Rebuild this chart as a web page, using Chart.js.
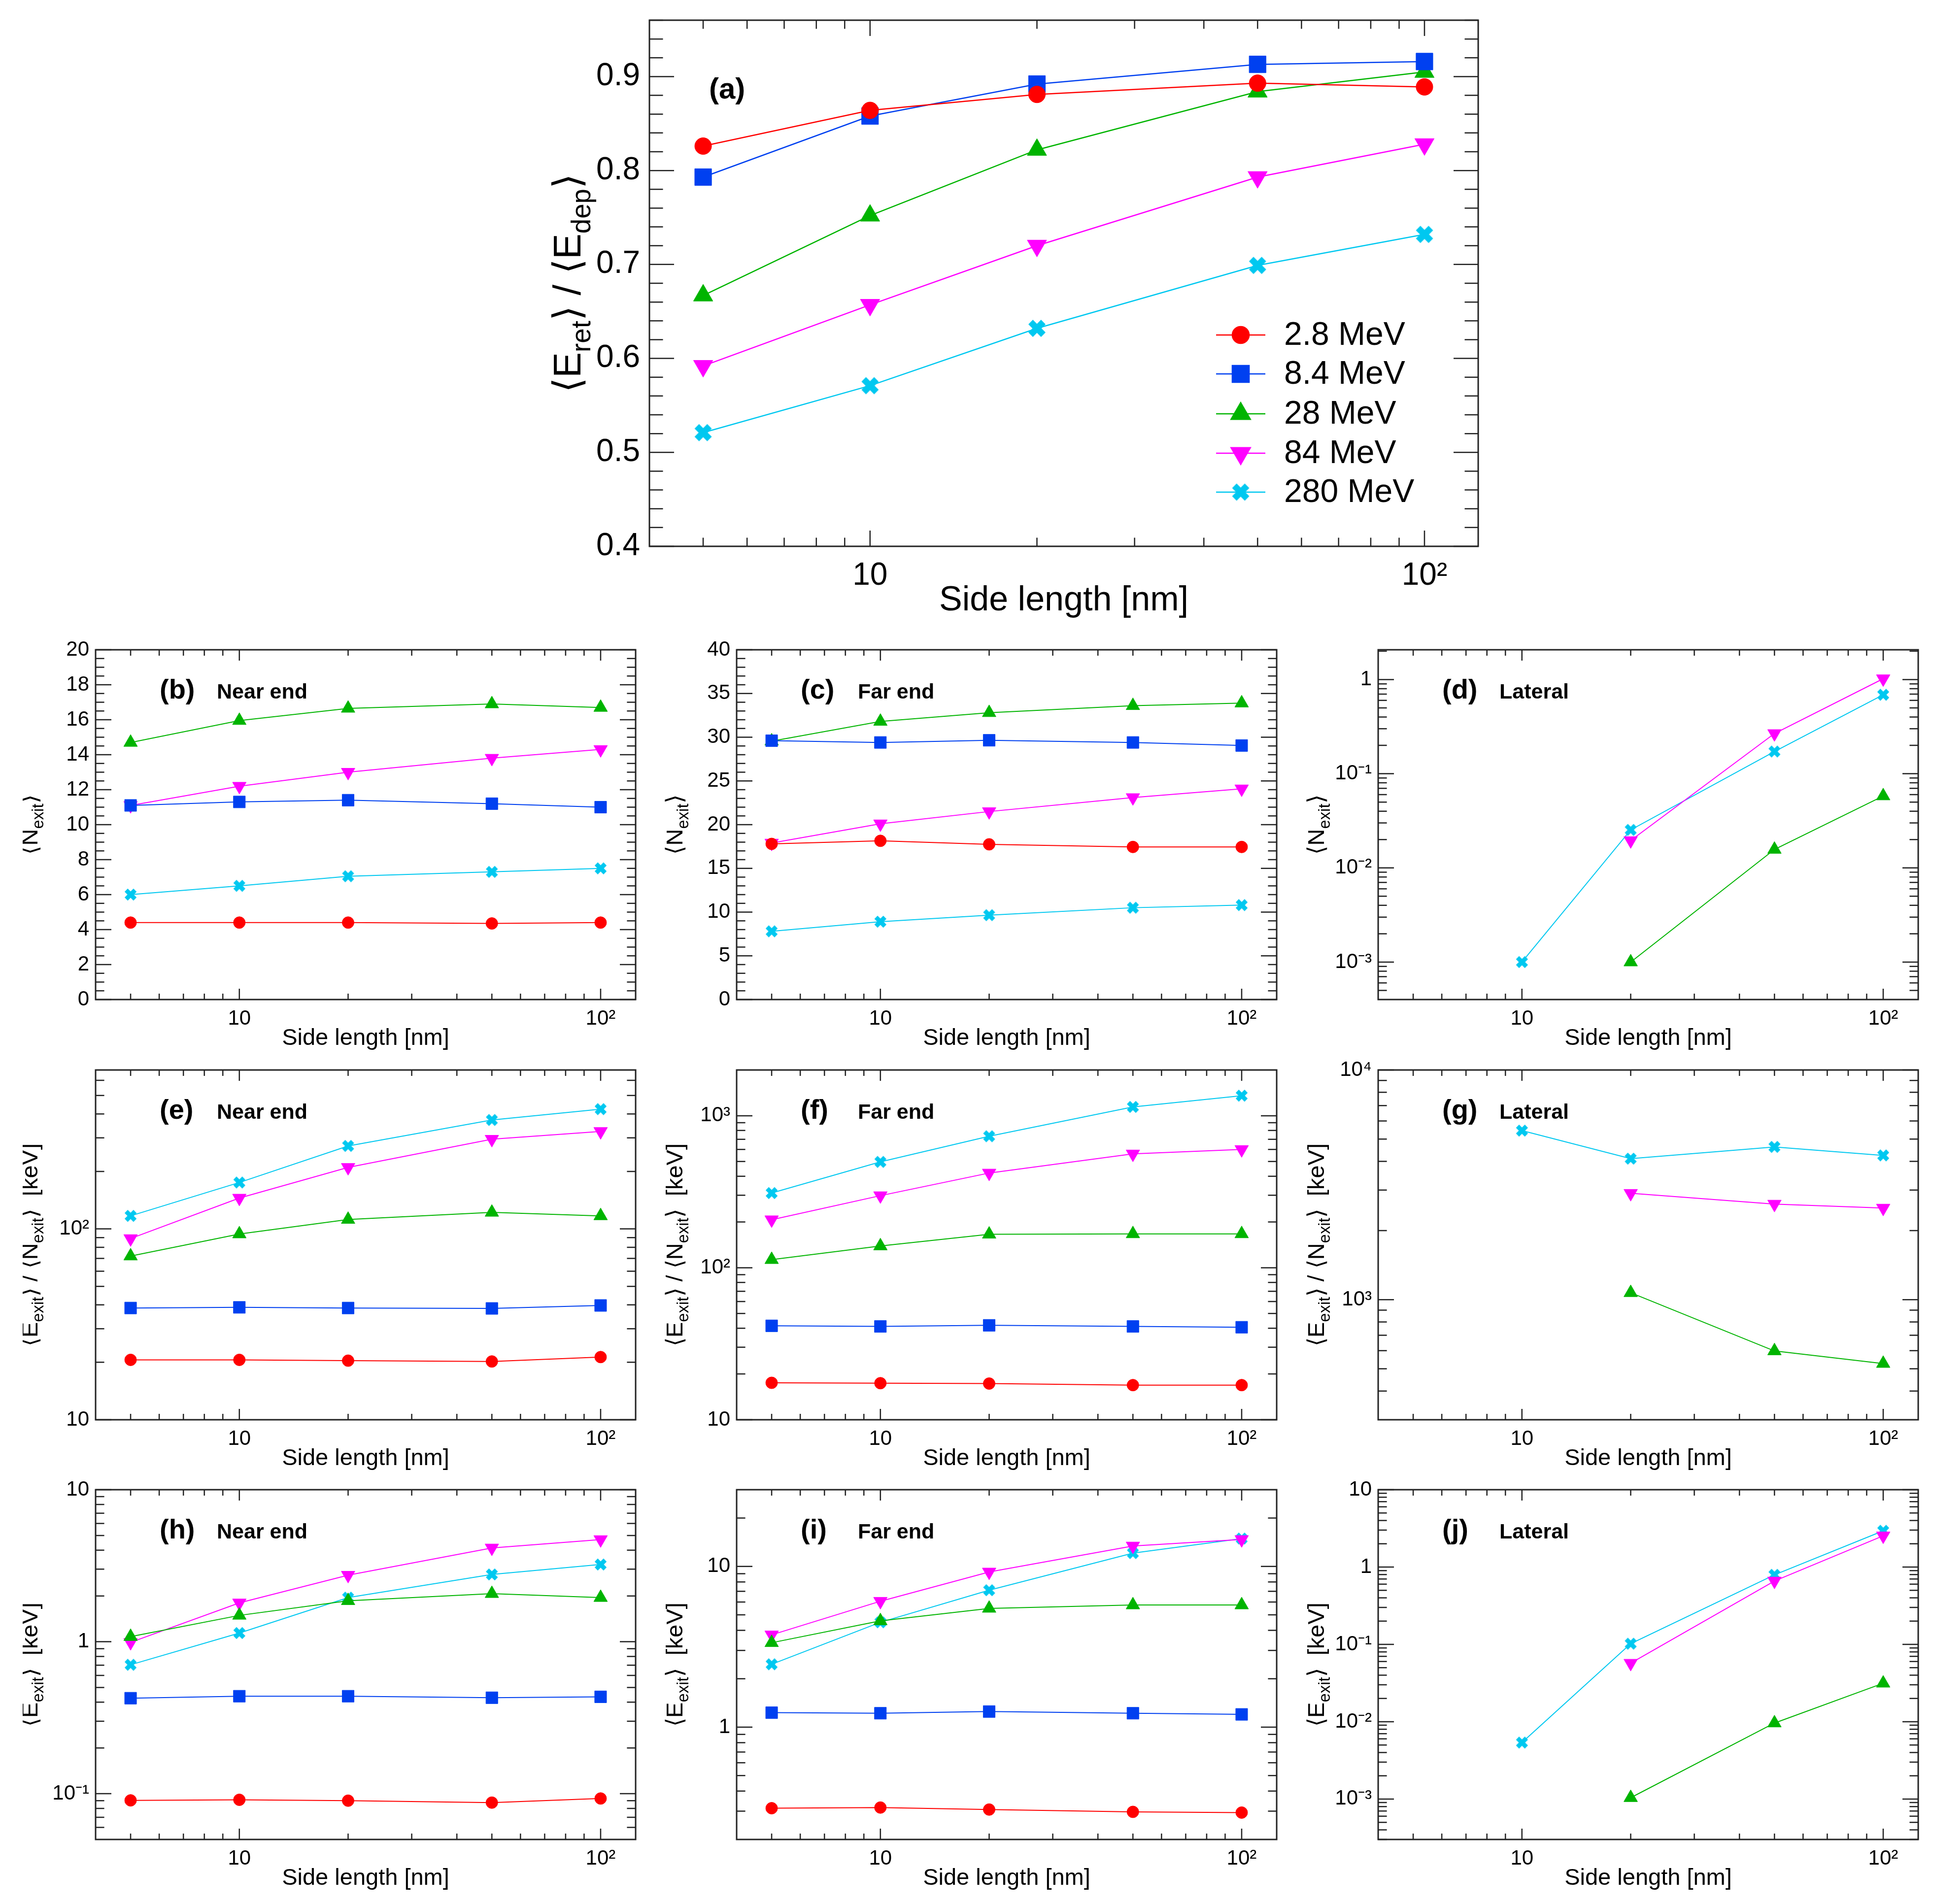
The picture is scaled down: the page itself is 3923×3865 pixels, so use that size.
<!DOCTYPE html>
<html lang="en">
<head>
<meta charset="UTF-8" />
<title>Exit quantities vs side length</title>
<style>
  html, body { margin: 0; padding: 0; background: #fff; }
  #page { position: relative; width: 3923px; height: 3865px; background: #fff; overflow: hidden; }
  #page canvas { position: absolute; }
</style>
<script src="https://cdn.jsdelivr.net/npm/chart.js"></script>
</head>
<body>
<div id="page"></div>
<script>
// side length of the cube (nm) and the beam energies
const sideLength = [5, 10, 20, 50, 100];
const energies = ['2.8 MeV', '8.4 MeV', '28 MeV', '84 MeV', '280 MeV'];

// (a) <E_ret>/<E_dep>, one row per energy
const retFraction = [
  [0.826, 0.864, 0.881, 0.893, 0.889],
  [0.793, 0.858, 0.892, 0.913, 0.916],
  [0.667, 0.752, 0.822, 0.884, 0.905],
  [0.592, 0.657, 0.720, 0.793, 0.828],
  [0.521, 0.571, 0.632, 0.699, 0.732]
];
// (b)-(d) <N_exit>
const nExitNear = [
  [4.4, 4.4, 4.4, 4.35, 4.4],
  [11.1, 11.3, 11.4, 11.2, 11.0],
  [14.7, 15.95, 16.65, 16.9, 16.7],
  [11.1, 12.2, 13.0, 13.8, 14.3],
  [6.0, 6.5, 7.05, 7.3, 7.5]
];
const nExitFar = [
  [17.8, 18.15, 17.75, 17.45, 17.45],
  [29.6, 29.4, 29.65, 29.4, 29.05],
  [29.55, 31.8, 32.8, 33.6, 33.9],
  [17.9, 20.1, 21.5, 23.1, 24.1],
  [7.8, 8.9, 9.65, 10.5, 10.8]
];
const nExitLat = [
  [null, null, null, null, null],
  [null, null, null, null, null],
  [null, null, 0.001, 0.0157, 0.058],
  [null, null, 0.0195, 0.267, 1.02],
  [null, 0.001, 0.0253, 0.172, 0.689]
];
// (e)-(g) <E_exit>/<N_exit> [keV]
const ePerNNear = [
  [20.6, 20.6, 20.4, 20.2, 21.3],
  [38.5, 38.8, 38.5, 38.3, 39.7],
  [72, 94, 112, 122, 117],
  [89, 145, 210, 295, 324],
  [117, 175, 272, 372, 424]
];
const ePerNFar = [
  [17.5, 17.4, 17.3, 16.9, 16.9],
  [41.5, 41.1, 41.8, 41.1, 40.6],
  [113, 139, 166, 167, 167],
  [207, 298, 420, 561, 600],
  [310, 497, 733, 1143, 1355]
];
const ePerNLat = [
  [null, null, null, null, null],
  [null, null, null, null, null],
  [null, null, 1072, 598, 527],
  [null, null, 2904, 2607, 2505],
  [null, 5445, 4110, 4624, 4247]
];
// (h)-(j) <E_exit> [keV]
const eExitNear = [
  [0.0904, 0.0912, 0.090, 0.0874, 0.093],
  [0.425, 0.438, 0.438, 0.428, 0.434],
  [1.08, 1.49, 1.86, 2.07, 1.95],
  [0.99, 1.80, 2.74, 4.14, 4.70],
  [0.705, 1.14, 1.95, 2.77, 3.22]
];
const eExitFar = [
  [0.313, 0.316, 0.307, 0.297, 0.294],
  [1.23, 1.22, 1.25, 1.22, 1.20],
  [3.35, 4.58, 5.48, 5.75, 5.75],
  [3.75, 6.07, 9.23, 13.4, 14.7],
  [2.46, 4.49, 7.11, 12.1, 14.9]
];
const eExitLat = [
  [null, null, null, null, null],
  [null, null, null, null, null],
  [null, null, 0.00104, 0.0096, 0.0314],
  [null, null, 0.0571, 0.66, 2.53],
  [null, 0.00537, 0.102, 0.793, 2.94]
];

// tick values
const xMajor = [10, 100];
const xMinor = [5, 6, 7, 8, 9, 20, 30, 40, 50, 60, 70, 80, 90];
const yTicksA = [0.4, 0.5, 0.6, 0.7, 0.8, 0.9];
const yTicksB = [0, 2, 4, 6, 8, 10, 12, 14, 16, 18, 20];
const yTicksC = [0, 5, 10, 15, 20, 25, 30, 35, 40];
const yTicksD = [0.001, 0.01, 0.1, 1];
const yTicksE = [10, 100];
const yTicksF = [10, 100, 1000];
const yTicksG = [1000, 10000];
const yTicksH = [0.1, 1, 10];
const yTicksI = [1, 10];
const yTicksJ = [0.001, 0.01, 0.1, 1, 10];

const titleRet = [['⟨E'], ['ret', 1], ['⟩ / ⟨E'], ['dep', 1], ['⟩']];
const titleN = [['⟨N'], ['exit', 1], ['⟩']];
const titleEN = [['⟨E'], ['exit', 1], ['⟩ / ⟨N'], ['exit', 1], ['⟩  [keV]']];
const titleE = [['⟨E'], ['exit', 1], ['⟩  [keV]']];

const colors = ['#ff0000', '#0040f0', '#00b400', '#ff00ff', '#00c8f0'];
const FONT = '"Liberation Sans", Arial, Helvetica, sans-serif';
Chart.defaults.font.family = FONT;

const SUP = { '-': '⁻', '0': '⁰', '1': '¹', '2': '²', '3': '³', '4': '⁴' };
function expLabel(v) {
  const e = Math.round(Math.log10(v));
  if (e === 0) return '1';
  if (e === 1) return '10';
  return '10' + String(e).split('').map(c => SUP[c]).join('');
}

function xMarker(size, color) {
  const c = document.createElement('canvas');
  c.width = c.height = size;
  const g = c.getContext('2d');
  g.strokeStyle = color;
  g.lineWidth = size * 0.3;
  const p = size * 0.2;
  g.beginPath();
  g.moveTo(p, p); g.lineTo(size - p, size - p);
  g.moveTo(size - p, p); g.lineTo(p, size - p);
  g.stroke();
  return c;
}

function minorTicks(p) {
  const out = [];
  if (p.yType === 'linear') {
    for (let v = p.yMin; v <= p.yMax + 1e-9; v += p.yStep) out.push(+v.toFixed(4));
  } else {
    for (let e = -5; e <= 5; e++) for (let m = 2; m <= 9; m++) {
      const v = m * Math.pow(10, e);
      if (v > p.yMin && v < p.yMax) out.push(v);
    }
  }
  return out;
}

function font(size, bold) { return (bold ? 'bold ' : '') + size + 'px ' + FONT; }

function richWidth(ctx, segs, size) {
  let w = 0;
  segs.forEach(s => { ctx.font = font(s[1] ? size * 0.7 : size); w += ctx.measureText(s[0]).width; });
  return w;
}
function drawRich(ctx, segs, size, x0, y0) {
  let x = x0;
  segs.forEach(s => {
    ctx.font = font(s[1] ? size * 0.7 : size);
    ctx.fillText(s[0], x, y0 + (s[1] ? size * 0.25 : 0));
    x += ctx.measureText(s[0]).width;
  });
}

function pointStyles(m) {
  return [
    { pointStyle: 'circle', pointRadius: 12 * m },
    { pointStyle: 'rect', pointRadius: 17 * m },
    { pointStyle: 'triangle', pointRadius: 16 * m },
    { pointStyle: 'triangle', pointRadius: 16 * m, pointRotation: 180 },
    { pointStyle: xMarker(Math.round(30 * m), colors[4]), pointRadius: 15 * m }
  ];
}

function framePlugin(p, g) {
  return {
    id: 'frame' + p.tag,
    afterDraw(chart) {
      const { ctx, chartArea: a, scales } = chart;
      const xs = scales.x, ys = scales.y;
      ctx.save();
      ctx.strokeStyle = '#222';
      ctx.lineWidth = 3;
      ctx.strokeRect(a.left, a.top, a.width, a.height);
      ctx.lineWidth = 2.5;
      ctx.beginPath();
      const xt = (vals, len) => vals.forEach(v => {
        const px = xs.getPixelForValue(v);
        ctx.moveTo(px, a.bottom); ctx.lineTo(px, a.bottom - len);
        ctx.moveTo(px, a.top); ctx.lineTo(px, a.top + len);
      });
      const yt = (vals, len) => vals.forEach(v => {
        const py = ys.getPixelForValue(v);
        ctx.moveTo(a.left, py); ctx.lineTo(a.left + len, py);
        ctx.moveTo(a.right, py); ctx.lineTo(a.right - len, py);
      });
      xt(xMajor, g.xLen); xt(xMinor, g.xLen * 0.55);
      yt(p.yTicks, g.yLen); yt(minorTicks(p), g.yLen * 0.55);
      ctx.stroke();

      ctx.fillStyle = '#000';
      ctx.textBaseline = 'alphabetic';
      // x title
      ctx.font = font(g.xTitle);
      ctx.textAlign = 'center';
      ctx.fillText('Side length [nm]', (a.left + a.right) / 2, a.bottom + g.xTitleGap);
      // y title, rotated
      ctx.textAlign = 'left';
      const w = richWidth(ctx, p.yTitle, g.yTitle);
      ctx.save();
      ctx.translate(a.left - g.yTitleGap, (a.top + a.bottom) / 2);
      ctx.rotate(-Math.PI / 2);
      drawRich(ctx, p.yTitle, g.yTitle, -w / 2, 0);
      ctx.restore();
      // panel tag and region note
      ctx.font = font(g.tag, true);
      ctx.fillText(p.tag, a.left + g.tagX, a.top + g.tagY);
      if (p.note) {
        ctx.font = font(g.note, true);
        ctx.fillText(p.note, a.left + g.noteX, a.top + g.tagY);
      }
      // legend
      if (p.legend) {
        const rows = [639, 718, 799, 879, 958];
        chart.data.datasets.forEach((ds, i) => {
          const y = a.top + rows[i];
          ctx.strokeStyle = ds.borderColor;
          ctx.lineWidth = ds.borderWidth;
          ctx.beginPath();
          ctx.moveTo(a.left + 1150, y); ctx.lineTo(a.left + 1250, y);
          ctx.stroke();
          ctx.fillStyle = ds.backgroundColor;
          Chart.helpers.drawPoint(ctx, {
            pointStyle: ds.pointStyle, radius: ds.pointRadius,
            rotation: ds.pointRotation || 0, borderWidth: 1
          }, a.left + 1200, y);
          ctx.fillStyle = '#000';
          ctx.font = font(66);
          ctx.textBaseline = 'middle';
          ctx.fillText(ds.label, a.left + 1288, y + 2);
          ctx.textBaseline = 'alphabetic';
        });
      }
      ctx.restore();
    }
  };
}

const colLeft = [194, 1495, 2797];
const rowTop = [1319, 2172, 3024];
const PW = 1096, PH = 710;

const panels = [
  { tag: '(a)', note: '', rows: retFraction, left: 1318, top: 41, w: 1682, h: 1068, big: true, legend: true,
    yType: 'linear', yMin: 0.4, yMax: 0.96, yStep: 0.02, yTicks: yTicksA, yTitle: titleRet },
  { tag: '(b)', note: 'Near end', rows: nExitNear, col: 0, row: 0,
    yType: 'linear', yMin: 0, yMax: 20, yStep: 0.5, yTicks: yTicksB, yTitle: titleN },
  { tag: '(c)', note: 'Far end', rows: nExitFar, col: 1, row: 0,
    yType: 'linear', yMin: 0, yMax: 40, yStep: 1, yTicks: yTicksC, yTitle: titleN },
  { tag: '(d)', note: 'Lateral', rows: nExitLat, col: 2, row: 0,
    yType: 'logarithmic', yMin: 4e-4, yMax: 2.07, yTicks: yTicksD, yTitle: titleN },
  { tag: '(e)', note: 'Near end', rows: ePerNNear, col: 0, row: 1,
    yType: 'logarithmic', yMin: 10, yMax: 680, yTicks: yTicksE, yTitle: titleEN },
  { tag: '(f)', note: 'Far end', rows: ePerNFar, col: 1, row: 1,
    yType: 'logarithmic', yMin: 10, yMax: 2000, yTicks: yTicksF, yTitle: titleEN },
  { tag: '(g)', note: 'Lateral', rows: ePerNLat, col: 2, row: 1,
    yType: 'logarithmic', yMin: 300, yMax: 10000, yTicks: yTicksG, yTitle: titleEN },
  { tag: '(h)', note: 'Near end', rows: eExitNear, col: 0, row: 2,
    yType: 'logarithmic', yMin: 0.05, yMax: 10, yTicks: yTicksH, yTitle: titleE },
  { tag: '(i)', note: 'Far end', rows: eExitFar, col: 1, row: 2,
    yType: 'logarithmic', yMin: 0.2, yMax: 30, yTicks: yTicksI, yTitle: titleE },
  { tag: '(j)', note: 'Lateral', rows: eExitLat, col: 2, row: 2,
    yType: 'logarithmic', yMin: 3e-4, yMax: 10, yTicks: yTicksJ, yTitle: titleE }
];

const page = document.getElementById('page');

panels.forEach(p => {
  if (!p.big) {
    p.left = colLeft[p.col]; p.top = rowTop[p.row]; p.w = PW; p.h = PH;
  }
  // left column: its canvas is cut at x=46, so the y title is partly clipped
  const g = p.big
    ? { L: 280, T: 60, R: 60, B: 170, tick: 64, xPad: 22, yPad: 19, xTitle: 70, xTitleGap: 130,
        yTitle: 78, yTitleGap: 140, tag: 60, tagX: 121, tagY: 159, note: 0, noteX: 0, xLen: 32, yLen: 50, m: 1.42, lw: 2.5 }
    : { L: p.col === 0 ? p.left - 46 : 200, T: 50, R: 50, B: 120, tick: 42, xPad: 14, yPad: 13, xTitle: 47, xTitleGap: 92,
        yTitle: 47, yTitleGap: p.col === 0 ? 118 : 110, tag: 56, tagX: 130, tagY: 99, note: 43, noteX: 246,
        xLen: 22, yLen: 32, m: 1, lw: 2 };

  const cv = document.createElement('canvas');
  const cw = g.L + p.w + g.R, chh = g.T + p.h + g.B;
  cv.width = cw; cv.height = chh;
  cv.style.width = cw + 'px'; cv.style.height = chh + 'px';
  cv.style.left = (p.left - g.L) + 'px';
  cv.style.top = (p.top - g.T) + 'px';
  page.appendChild(cv);

  const styles = pointStyles(g.m);
  const datasets = p.rows.map((vals, i) => Object.assign({
    label: energies[i],
    data: sideLength.map((x, k) => ({ x: x, y: vals[k] })),
    borderColor: colors[i],
    backgroundColor: colors[i],
    pointBackgroundColor: colors[i],
    pointBorderColor: colors[i],
    pointBorderWidth: 1,
    borderWidth: g.lw,
    tension: 0
  }, styles[i]));

  const tickFont = { family: FONT, size: g.tick };
  new Chart(cv, {
    type: 'line',
    data: { datasets: datasets },
    options: {
      responsive: false,
      animation: false,
      devicePixelRatio: 1,
      events: [],
      layout: { padding: { top: g.T, right: g.R, left: 0, bottom: 0 } },
      plugins: { legend: { display: false }, tooltip: { enabled: false } },
      scales: {
        x: {
          type: 'logarithmic', min: 4, max: 125,
          grid: { display: false, drawTicks: false }, border: { display: false },
          afterBuildTicks: s => { s.ticks = xMajor.map(v => ({ value: v })); },
          afterFit: s => { s.height = g.B; },
          ticks: { autoSkip: false, maxRotation: 0, padding: g.xPad, color: '#000', font: tickFont,
                   callback: v => expLabel(v) }
        },
        y: {
          type: p.yType, min: p.yMin, max: p.yMax,
          grid: { display: false, drawTicks: false }, border: { display: false },
          afterBuildTicks: s => { s.ticks = p.yTicks.map(v => ({ value: v })); },
          afterFit: s => { s.width = g.L; },
          ticks: { autoSkip: false, padding: g.yPad, color: '#000', font: tickFont,
                   callback: v => p.yType === 'linear' ? (p.big ? v.toFixed(1) : String(v)) : expLabel(v) }
        }
      }
    },
    plugins: [framePlugin(p, g)]
  });
});
</script>
</body>
</html>
